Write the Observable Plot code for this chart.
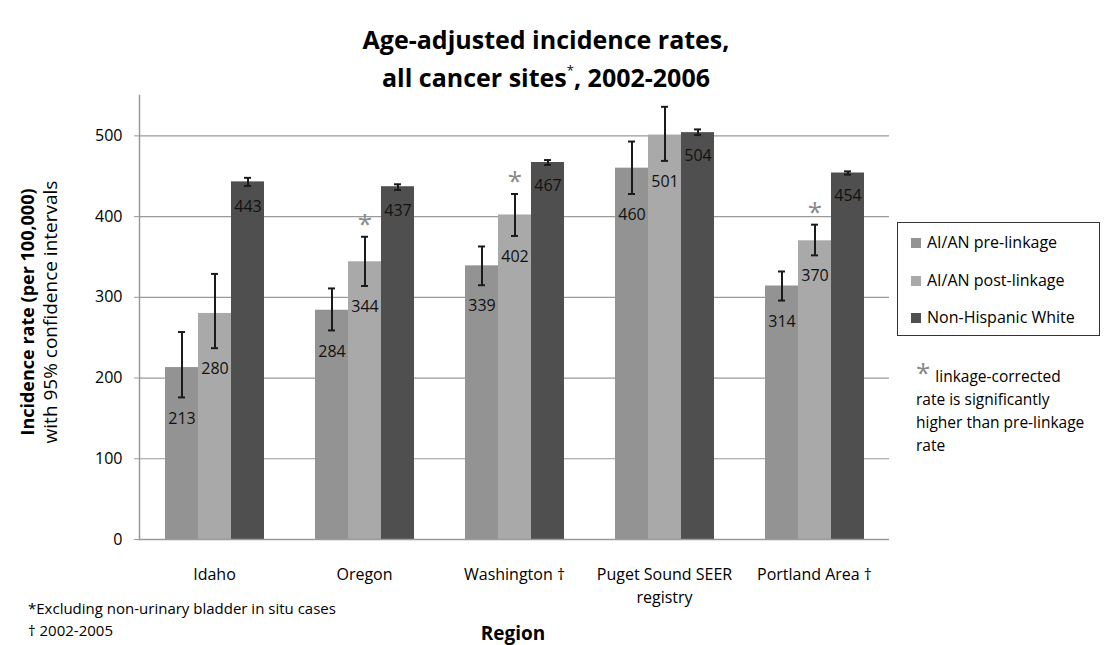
<!DOCTYPE html>
<html>
<head>
<meta charset="utf-8">
<script src="https://cdn.jsdelivr.net/npm/d3@7"></script>
<script src="https://cdn.jsdelivr.net/npm/@observablehq/plot@0.6"></script>
<style>
  html, body { margin: 0; padding: 0; background: #fff; }
  #wrap { position: relative; width: 1107px; height: 645px; font-family: "Open Sans", "Liberation Sans", sans-serif; color: #000; overflow: hidden; }
  #wrap svg { position: absolute; left: 0; top: 0; }
  .abs { position: absolute; white-space: nowrap; }
  #title { left: 246px; width: 600px; top: 20px; text-align: center; font-weight: bold; font-size: 25px; line-height: 38px; }
  #title sup { font-size: 13px; font-weight: normal; vertical-align: 12px; line-height: 0; }
  #ytitle { left: 39px; top: 312px; transform: translate(-50%, -50%) rotate(-90deg); text-align: center; line-height: 22px; }
  #ytitle .b { font-weight: bold; font-size: 18px; }
  #ytitle .n { font-size: 19px; }
  #legend { left: 897px; top: 222px; width: 201px; height: 112px; border: 1.5px solid #333; box-sizing: content-box; }
  .li { position: absolute; left: 13px; font-size: 16px; line-height: 20px; }
  .sw { display: inline-block; width: 10px; height: 10px; margin-right: 6px; vertical-align: 0px; }
  #note { left: 916px; top: 365px; font-size: 15.5px; line-height: 23px; }
  #note .ast { color: #888; font-size: 26px; line-height: 0; vertical-align: 0px; margin-right: 5px; }
  #foot { left: 28px; top: 597px; font-size: 15px; line-height: 22px; }
  #xtitle { left: 463px; width: 100px; top: 620px; text-align: center; font-weight: bold; font-size: 19px; }
</style>
</head>
<body>
<div id="wrap">
  <div id="title" class="abs">Age-adjusted incidence rates,<br>all cancer sites<sup>*</sup>, 2002-2006</div>
  <div id="ytitle" class="abs"><span class="b">Incidence rate (per 100,000)</span><br><span class="n">with 95% confidence intervals</span></div>
  <div id="legend" class="abs"></div>
  <div id="note" class="abs"><span class="ast">*</span>linkage-corrected<br>rate is significantly<br>higher than pre-linkage<br>rate</div>
  <div id="foot" class="abs">*Excluding non-urinary bladder in situ cases<br>† 2002-2005</div>
  <div id="xtitle" class="abs">Region</div>
</div>
<script>
// ---- data ----
const regions = ["Idaho", "Oregon", "Washington", "Puget Sound SEER registry", "Portland Area"];
const regionLabels = ["Idaho", "Oregon", "Washington †", "Puget Sound SEER\nregistry", "Portland Area †"];
const series = ["AI/AN pre-linkage", "AI/AN post-linkage", "Non-Hispanic White"];
const seriesColors = ["#939393", "#a9a9a9", "#4f4f4f"];

const preRate  = [213, 284, 339, 460, 314];
const preLow   = [176, 259, 315, 428, 296];
const preHigh  = [257, 311, 363, 493, 332];

const postRate = [280, 344, 402, 501, 370];
const postLow  = [237, 314, 376, 469, 352];
const postHigh = [329, 375, 428, 536, 390];

const nhwRate  = [443, 437, 467, 504, 454];
const nhwLow   = [438, 433, 464, 501, 452];
const nhwHigh  = [448, 440, 470, 508, 456];

const significant = [false, true, true, false, true];
const yTicks = [0, 100, 200, 300, 400, 500];
const gridTicks = [100, 200, 300, 400, 500];

// ---- table built from arrays ----
const seriesData = [
  [preRate, preLow, preHigh],
  [postRate, postLow, postHigh],
  [nhwRate, nhwLow, nhwHigh]
];
const rows = [];
regions.forEach((r, i) => {
  series.forEach((s, j) => {
    rows.push({region: r, series: s, value: seriesData[j][0][i], lo: seriesData[j][1][i], hi: seriesData[j][2][i]});
  });
});
const sigRows = regions.map((r, i) => ({region: r, series: series[1], hi: postHigh[i], sig: significant[i]})).filter(d => d.sig);

const labelMap = new Map(regions.map((r, i) => [r, regionLabels[i]]));
const font = '"Open Sans", "Liberation Sans", sans-serif';

const chart = Plot.plot({
  width: 1107,
  height: 645,
  marginLeft: 137,
  marginRight: 217,
  marginTop: 95,
  marginBottom: 106,
  style: {fontFamily: font, fontSize: "15px", color: "#000", background: "transparent", overflow: "visible"},
  fx: {domain: regions, padding: 0, label: null},
  x: {domain: series, paddingInner: 0, paddingOuter: 0.75, axis: null},
  y: {domain: [0, 550], label: null},
  color: {domain: series, range: seriesColors},
  marks: [
    Plot.ruleY(gridTicks, {stroke: "#9a9a9a", strokeWidth: 1.2}),
    Plot.barY(rows, {fx: "region", x: "series", y: "value", fill: "series"}),
    Plot.ruleY([0], {stroke: "#9a9a9a", strokeWidth: 1.5}),
    Plot.frame({anchor: "left", facetAnchor: "left", stroke: "#9a9a9a", strokeWidth: 1.5}),
    Plot.ruleX(rows, {fx: "region", x: "series", y1: "lo", y2: "hi", stroke: "#1a1a1a", strokeWidth: 2}),
    Plot.tickY(rows, {fx: "region", x: "series", y: "lo", stroke: "#1a1a1a", strokeWidth: 2, insetLeft: 13, insetRight: 13}),
    Plot.tickY(rows, {fx: "region", x: "series", y: "hi", stroke: "#1a1a1a", strokeWidth: 2, insetLeft: 13, insetRight: 13}),
    Plot.text(rows, {fx: "region", x: "series", y: "lo", text: d => String(d.value), dy: 21, fill: "#111", fontSize: 16}),
    Plot.text(sigRows, {fx: "region", x: "series", y: "hi", text: () => "*", dy: -12, fill: "#8a8a8a", fontSize: 26}),
    Plot.axisY({ticks: yTicks, tickSize: 5, tickPadding: 12, stroke: "#9a9a9a", fill: "#000", fontSize: 16, label: null}),
    Plot.axisFx({anchor: "bottom", tickSize: 0, tickPadding: 25, tickFormat: d => labelMap.get(d), lineHeight: 1.4, fontSize: 16, label: null})
  ]
});
document.getElementById("wrap").prepend(chart);

// legend from series arrays
const legend = document.getElementById("legend");
series.forEach((s, j) => {
  const div = document.createElement("div");
  div.className = "li";
  div.style.top = (9 + j * 37.5) + "px";
  const sw = document.createElement("span");
  sw.className = "sw";
  sw.style.background = seriesColors[j];
  div.appendChild(sw);
  div.appendChild(document.createTextNode(s));
  legend.appendChild(div);
});
</script>
</body>
</html>
